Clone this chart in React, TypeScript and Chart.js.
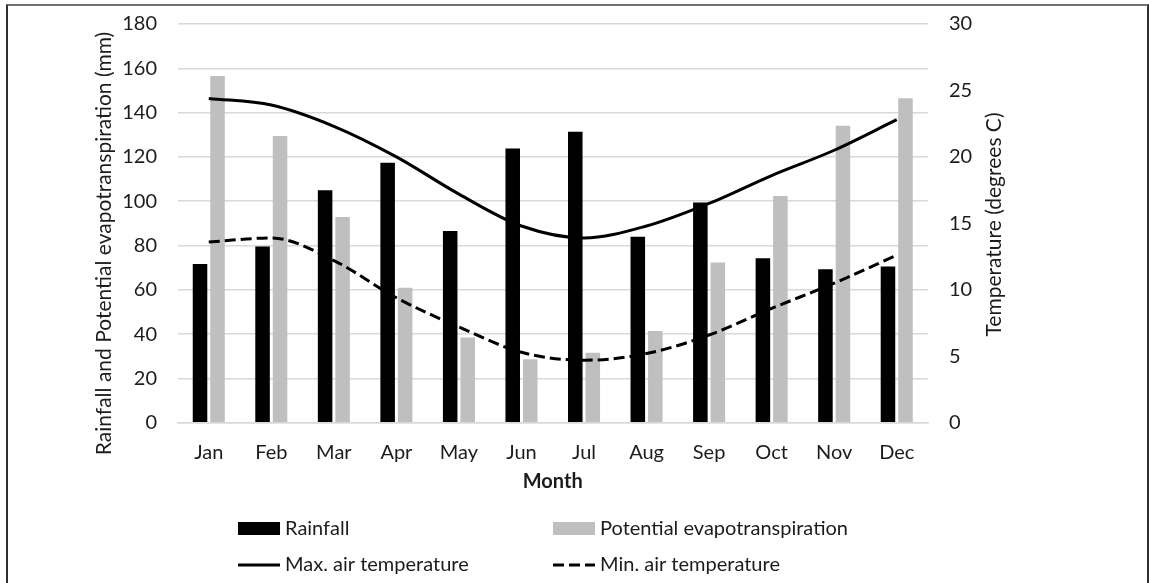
import React, { useEffect, useRef } from "react";
import { Chart, registerables } from "chart.js";

Chart.register(...registerables);

const months = ["Jan", "Feb", "Mar", "Apr", "May", "Jun", "Jul", "Aug", "Sep", "Oct", "Nov", "Dec"];
const rainfall = [71.7, 79.5, 105, 117.4, 86.6, 123.8, 131.4, 84, 99.4, 74.3, 69.3, 70.5];
const evapotranspiration = [156.5, 129.4, 92.9, 60.9, 38.5, 28.6, 31.6, 41.4, 72.3, 102.3, 134.1, 146.5];
const maxAirTemp = [24.4, 23.9, 22.3, 20.0, 17.2, 14.8, 13.9, 14.8, 16.5, 18.6, 20.5, 22.8];
const minAirTemp = [13.6, 13.9, 12.2, 9.4, 7.2, 5.3, 4.7, 5.2, 6.6, 8.6, 10.5, 12.6];

const leftAxisTitle = "Rainfall and Potential evapotranspiration (mm)";
const rightAxisTitle = "Temperature (degrees C)";
const xAxisTitle = "Month";
const leftRange = [0, 180, 20];
const rightRange = [0, 30, 5];

const FONT = "Lato, 'Open Sans', sans-serif";
const TEXT = "#1c1c1c";
const GRID = "#d9d9d9";

const decorPlugin = {
  id: "decor",
  afterDraw(chart: any) {
    const ctx = chart.ctx as CanvasRenderingContext2D;
    ctx.save();
    ctx.fillStyle = TEXT;
    ctx.font = `21px ${FONT}`;
    ctx.textBaseline = "middle";
    ctx.textAlign = "center";
    // left axis title
    ctx.save();
    ctx.translate(104, 243.5);
    ctx.rotate(-Math.PI / 2);
    ctx.fillText(leftAxisTitle, 0, 0);
    ctx.restore();
    // right axis title
    ctx.save();
    ctx.translate(994, 224.5);
    ctx.rotate(-Math.PI / 2);
    ctx.fillText(rightAxisTitle, 0, 0);
    ctx.restore();

    // legend 2x2
    ctx.font = `20px ${FONT}`;
    const colX = [238, 553];
    const rowY = [528.5, 565];
    const swW = 42;
    const order = [0, 1, 2, 3];
    order.forEach((idx, k) => {
      const ds = chart.data.datasets[idx];
      const x = colX[k % 2];
      const y = rowY[Math.floor(k / 2)];
      if (ds.type === "bar") {
        ctx.fillStyle = ds.backgroundColor;
        ctx.fillRect(x, y - 6.5, swW, 13);
      } else {
        ctx.save();
        ctx.strokeStyle = ds.borderColor;
        ctx.lineWidth = ds.borderWidth;
        ctx.setLineDash(ds.borderDash || []);
        ctx.beginPath();
        ctx.moveTo(x, y);
        ctx.lineTo(x + swW, y);
        ctx.stroke();
        ctx.restore();
      }
      ctx.fillStyle = TEXT;
      ctx.textAlign = "left";
      ctx.fillText(ds.label, x + swW + 5, y);
    });
    ctx.restore();
  },
};

export default function App() {
  const canvasRef = useRef<HTMLCanvasElement | null>(null);

  useEffect(() => {
    const canvas = canvasRef.current;
    if (!canvas) return;
    const chart = new Chart(canvas, {
      type: "bar",
      data: {
        labels: months,
        datasets: [
          {
            type: "bar",
            label: "Rainfall",
            data: rainfall,
            backgroundColor: "#000000",
            yAxisID: "y",
            order: 2,
            categoryPercentage: 0.56,
            barPercentage: 0.83,
          },
          {
            type: "bar",
            label: "Potential evapotranspiration",
            data: evapotranspiration,
            backgroundColor: "#bfbfbf",
            yAxisID: "y",
            order: 2,
            categoryPercentage: 0.56,
            barPercentage: 0.83,
          },
          {
            type: "line",
            label: "Max. air temperature",
            data: maxAirTemp,
            borderColor: "#000000",
            backgroundColor: "#000000",
            borderWidth: 3,
            pointRadius: 0,
            cubicInterpolationMode: "monotone",
            yAxisID: "y1",
            order: 0,
          },
          {
            type: "line",
            label: "Min. air temperature",
            data: minAirTemp,
            borderColor: "#000000",
            backgroundColor: "#000000",
            borderWidth: 3,
            borderDash: [11, 5],
            pointRadius: 0,
            cubicInterpolationMode: "monotone",
            yAxisID: "y1",
            order: 0,
          },
        ] as any,
      },
      options: {
        animation: false,
        responsive: false,
        maintainAspectRatio: false,
        layout: { padding: { top: 24, left: 0, right: 0, bottom: 80.3 } },
        plugins: {
          legend: { display: false },
          tooltip: { enabled: false },
          title: { display: false },
        },
        scales: {
          x: {
            grid: { display: false, drawTicks: false },
            border: { display: true, color: GRID, width: 1.5 },
            ticks: { color: TEXT, font: { family: FONT, size: 20 }, padding: 18.3, maxRotation: 0, autoSkip: false },
            title: {
              display: true,
              text: xAxisTitle,
              color: TEXT,
              font: { family: FONT, size: 20, weight: "bold" },
              padding: { top: 0, bottom: 9.1 },
            },
            afterFit: (s: any) => {
              s.height = 80;
              s.paddingLeft = 0;
              s.paddingRight = 0;
            },
          },
          y: {
            position: "left",
            min: leftRange[0],
            max: leftRange[1],
            grid: { color: GRID, lineWidth: 1.5, drawTicks: false },
            border: { display: false },
            ticks: { stepSize: leftRange[2], color: TEXT, font: { family: FONT, size: 20 }, padding: 20.5 },
            afterFit: (s: any) => {
              s.width = 177.5;
              s.paddingTop = 0;
              s.paddingBottom = 0;
            },
          },
          y1: {
            position: "right",
            min: rightRange[0],
            max: rightRange[1],
            grid: { display: false, drawTicks: false },
            border: { display: false },
            ticks: { stepSize: rightRange[2], color: TEXT, font: { family: FONT, size: 20 }, padding: 21 },
            afterFit: (s: any) => {
              s.width = 1149 - 928;
              s.paddingTop = 0;
              s.paddingBottom = 0;
            },
          },
        },
      } as any,
      plugins: [decorPlugin],
    });
    return () => chart.destroy();
  }, []);

  return (
    <div style={{ position: "fixed", left: 0, top: 0, width: 1149, height: 583, background: "#fff", overflow: "hidden" }}>
      <div
        style={{
          position: "absolute",
          left: 6,
          top: 4,
          width: 1143,
          height: 700,
          boxSizing: "border-box",
          borderStyle: "solid",
          borderWidth: 2,
          borderColor: "#707070 #303030 #303030 #303030",
        }}
      />
      <canvas ref={canvasRef} width={1149} height={583} style={{ position: "absolute", left: 0, top: 0, width: 1149, height: 583 }} />
    </div>
  );
}
